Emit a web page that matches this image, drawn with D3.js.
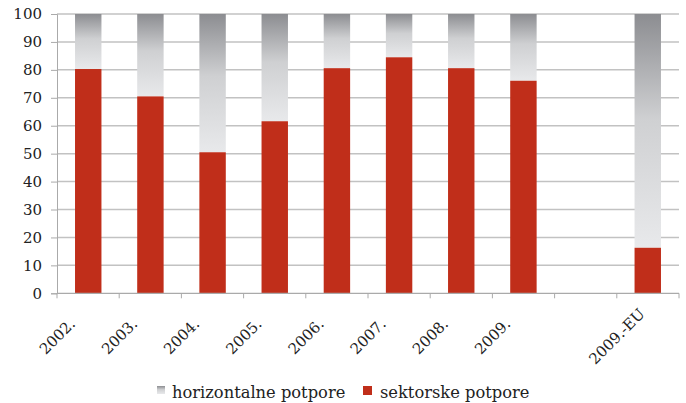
<!DOCTYPE html>
<html><head><meta charset="utf-8">
<script src="https://cdn.jsdelivr.net/npm/d3@7"></script>
<style>body{margin:0;background:#fff}svg{display:block}text{font-family:"DejaVu Serif",Georgia,serif;fill:#222}</style>
</head><body>
<svg id="c" width="686" height="403"></svg>
<script>
const categories = ["2002.","2003.","2004.","2005.","2006.","2007.","2008.","2009.","","2009.-EU"];
const sektorske = [80.3, 70.5, 50.5, 61.6, 80.6, 84.5, 80.6, 76.1, null, 16.3];
const horizontalne = [19.7, 29.5, 49.5, 38.4, 19.4, 15.5, 19.4, 23.9, null, 83.7];
const yTicks = [0,10,20,30,40,50,60,70,80,90,100];
const seriesNames = ["horizontalne potpore","sektorske potpore"];

const svg = d3.select("#c");
const L=57,R=679,T=14,B=293.3;
const x = d3.scaleBand().domain(d3.range(categories.length)).range([L,R]).paddingInner(0.575).paddingOuter(0.29);
const y = d3.scaleLinear().domain([0,100]).range([B,T]);

const defs = svg.append("defs");
const g = defs.append("linearGradient").attr("id","gr").attr("x1",0).attr("y1",0).attr("x2",0).attr("y2",1);
g.append("stop").attr("offset","0%").attr("stop-color","#8c8d91");
g.append("stop").attr("offset","45%").attr("stop-color","#cfd0d2");
g.append("stop").attr("offset","100%").attr("stop-color","#e8e9eb");

// gridlines
svg.append("g").selectAll("line").data(yTicks.slice(1)).join("line")
  .attr("x1",L).attr("x2",R).attr("y1",d=>y(d)).attr("y2",d=>y(d))
  .attr("stroke","#c2c2c2").attr("stroke-width",1.5);

// y axis
const ya = svg.append("g").attr("transform",`translate(${L},0)`)
  .call(d3.axisLeft(y).tickValues(yTicks).tickSize(6).tickPadding(9).tickFormat(d3.format("d")));
ya.select(".domain").attr("stroke","#aaa");
ya.selectAll(".tick line").attr("stroke","#aaa");
ya.selectAll("text").attr("font-size",15).style("font-family","DejaVu Serif").attr("fill","#222");

// bars
const idx = d3.range(categories.length).filter(i=>sektorske[i]!=null);
svg.append("g").selectAll("rect").data(idx).join("rect")
  .attr("x",i=>x(i)).attr("width",x.bandwidth())
  .attr("y",i=>y(sektorske[i]+horizontalne[i])).attr("height",i=>y(sektorske[i])-y(sektorske[i]+horizontalne[i]))
  .attr("fill","url(#gr)");
svg.append("g").selectAll("rect").data(idx).join("rect")
  .attr("x",i=>x(i)).attr("width",x.bandwidth())
  .attr("y",i=>y(sektorske[i])).attr("height",i=>B-y(sektorske[i]))
  .attr("fill","#c02e1a");

// x axis
const bounds = d3.range(categories.length+1).map(i=>L+i*(R-L)/categories.length);
svg.append("line").attr("x1",L).attr("x2",R).attr("y1",B).attr("y2",B).attr("stroke","#aaa").attr("stroke-width",1.2);
svg.append("g").selectAll("line").data(bounds).join("line")
  .attr("x1",d=>d).attr("x2",d=>d).attr("y1",B).attr("y2",B+5).attr("stroke","#aaa");
svg.append("g").selectAll("text").data(d3.range(categories.length)).join("text")
  .attr("transform",i=>`translate(${x(i)+x.bandwidth()/2-31},${B+43}) rotate(-45)`)
  .attr("text-anchor","middle").attr("font-size",15).attr("dy","0.35em")
  .text(i=>categories[i]);

// legend
const lg = svg.append("g");
lg.append("rect").attr("x",157).attr("y",386).attr("width",8).attr("height",8).attr("fill","url(#gr)");
lg.append("text").attr("x",172).attr("y",398).attr("font-size",16.3).text(seriesNames[0]);
lg.append("rect").attr("x",363).attr("y",386).attr("width",9).attr("height",9).attr("fill","#c02e1a");
lg.append("text").attr("x",380).attr("y",398).attr("font-size",16.3).text(seriesNames[1]);
</script>
</body></html>
